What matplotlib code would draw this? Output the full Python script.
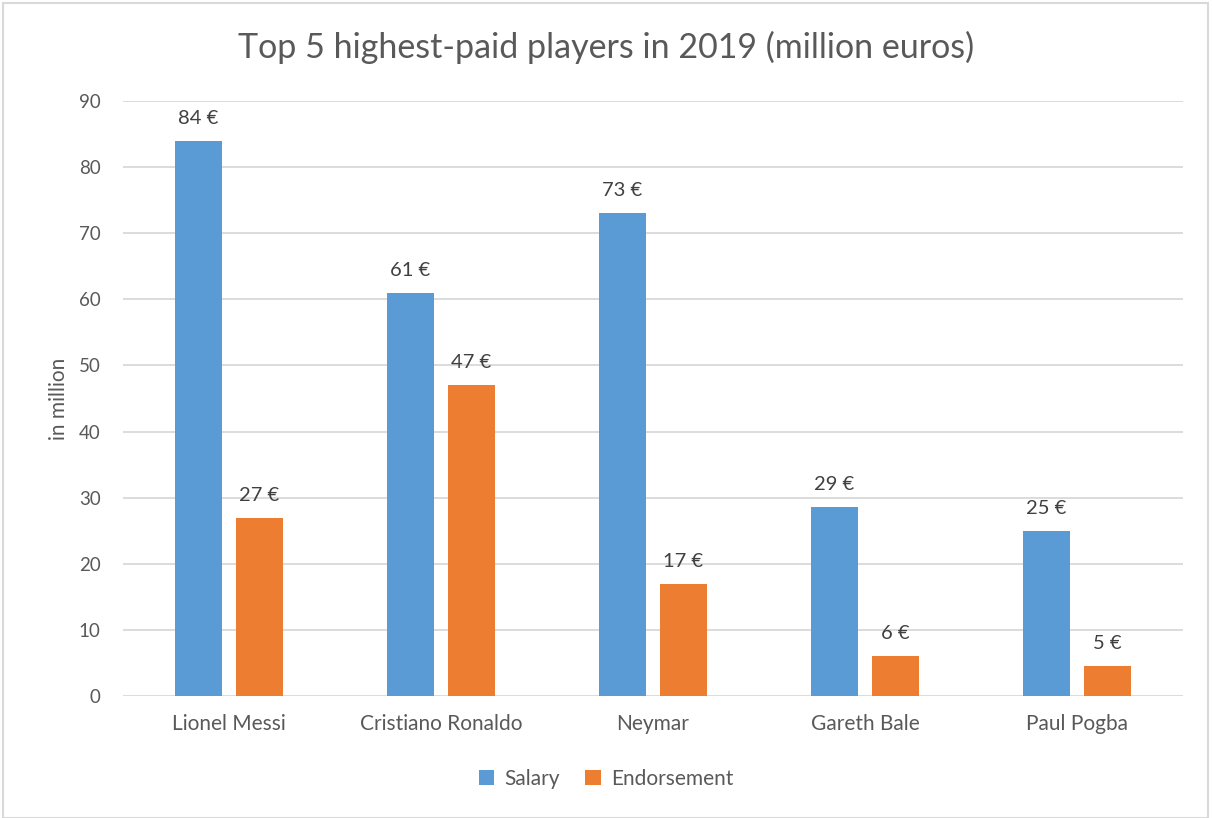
import numpy as np
import matplotlib.pyplot as plt
from matplotlib.patches import Rectangle

players = ['Lionel Messi', 'Cristiano Ronaldo', 'Neymar', 'Gareth Bale', 'Paul Pogba']
salary = [84, 61, 73, 28.6, 25]
endorsement = [27, 47, 17, 6, 4.5]

plt.rcParams['font.family'] = ['Lato', 'DejaVu Sans']

c_sal = '#5b9bd5'
c_end = '#ed7d31'
grey = '#595959'

fig = plt.figure(figsize=(12.12, 8.18), dpi=100)
ax = fig.add_axes([123/1212, 1 - 696/818, 1060/1212, 595/818])

x = np.arange(len(players))
w = 0.222
off = 0.144
b1 = ax.bar(x - off, salary, w, color=c_sal, label='Salary', zorder=3)
b2 = ax.bar(x + off, endorsement, w, color=c_end, label='Endorsement', zorder=3)

def etiqueta(v):
    # redondeo hacia arriba en .5, como la hoja de calculo
    return '%d €' % int(np.floor(v + 0.5))

for barras, vals in ((b1, salary), (b2, endorsement)):
    for b, v in zip(barras, vals):
        ax.annotate(etiqueta(v), (b.get_x() + b.get_width()/2, v),
                    xytext=(0, 10), textcoords='offset points',
                    ha='center', va='bottom', fontsize=14.5, color='#404040')

ax.set_xlim(-0.5, 4.5)
ax.set_ylim(0, 90)
ax.set_yticks(np.arange(0, 91, 10))
ax.set_xticks(x)
ax.set_xticklabels(players)
ax.tick_params(axis='both', length=0, colors=grey)
ax.tick_params(axis='y', pad=16, labelsize=13.5)
ax.tick_params(axis='x', pad=13, labelsize=15)
ax.grid(axis='y', color='#d9d9d9', lw=1.3, zorder=0)
for s in ax.spines.values():
    s.set_visible(False)

ax.set_ylabel('in million', fontsize=15, color=grey, labelpad=7)

fig.text(0.5, 1 - 47/818, 'Top 5 highest-paid players in 2019 (million euros)',
         ha='center', va='center', fontsize=24.5, color=grey)

fig.legend(handles=[b1, b2], loc='center', bbox_to_anchor=(0.5, 1 - 779/818),
           ncol=2, frameon=False, fontsize=15, handlelength=0.75, handleheight=0.75,
           columnspacing=1.2, handletextpad=0.5, labelcolor=grey)

# marco exterior
fig.patches.append(Rectangle((3/1212, 0), 1205/1212, 1 - 3/818, transform=fig.transFigure,
                             fill=False, edgecolor='#d9d9d9', lw=1.5))

fig.savefig('out.png', dpi=100)
